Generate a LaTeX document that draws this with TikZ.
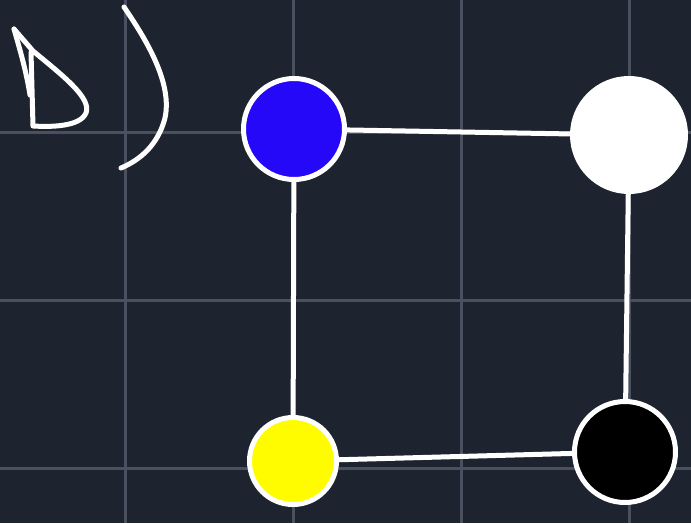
\documentclass[tikz,border=0pt]{standalone}
\usepackage{xcolor}
\usepackage{tikz}
\usetikzlibrary{calc}
\definecolor{bgdark}{RGB}{30,35,48}
\definecolor{gridgrey}{RGB}{74,80,95}
\definecolor{penblue}{RGB}{38,8,248}
\definecolor{penyellow}{RGB}{255,252,0}
\tikzset{
  dot/.style={circle, draw=white, line width=5pt, inner sep=0pt},
  link/.style={draw=white, line width=5pt, line cap=round},
  pen/.style={draw=white, line width=5pt, line cap=round, line join=round},
}

\begin{document}
\begin{tikzpicture}[x=1pt, y=-1pt]
\fill[bgdark] (0,0) rectangle (691,523);
\useasboundingbox (0,0) rectangle (691,523);
% grid
\foreach \gx in {125,293,461,629} \draw[gridgrey, line width=3pt] (\gx,0) -- (\gx,523);
\foreach \gy in {132,300,468} \draw[gridgrey, line width=3pt] (0,\gy) -- (691,\gy);
% handwritten label
\draw[pen] (14,29) -- (33,51) .. controls (62,75) and (92,98) .. (86,113) .. controls (80,127) and (50,127) .. (33,126) -- (31,52);
\draw[pen] (14,29) .. controls (20,50) and (26,70) .. (30,95);
\draw[pen] (124,7) .. controls (150,45) and (172,85) .. (165,118) .. controls (158,145) and (140,160) .. (121,168);
% nodes
\node[dot, fill=penblue, minimum size=101pt] (blue) at (294,129){};
\node[dot, fill=white, minimum size=113pt] (white) at (629,135){};
\node[dot, fill=penyellow, minimum size=87pt] (yellow) at (293,461){};
\node[dot, fill=black, minimum size=101pt] (black) at (625,452){};
% edges
\draw[link] (blue) -- (white);
\draw[link] (blue) -- (yellow);
\draw[link] (white) -- (black);
\draw[link] (yellow) -- (black);
\end{tikzpicture}
\end{document}
